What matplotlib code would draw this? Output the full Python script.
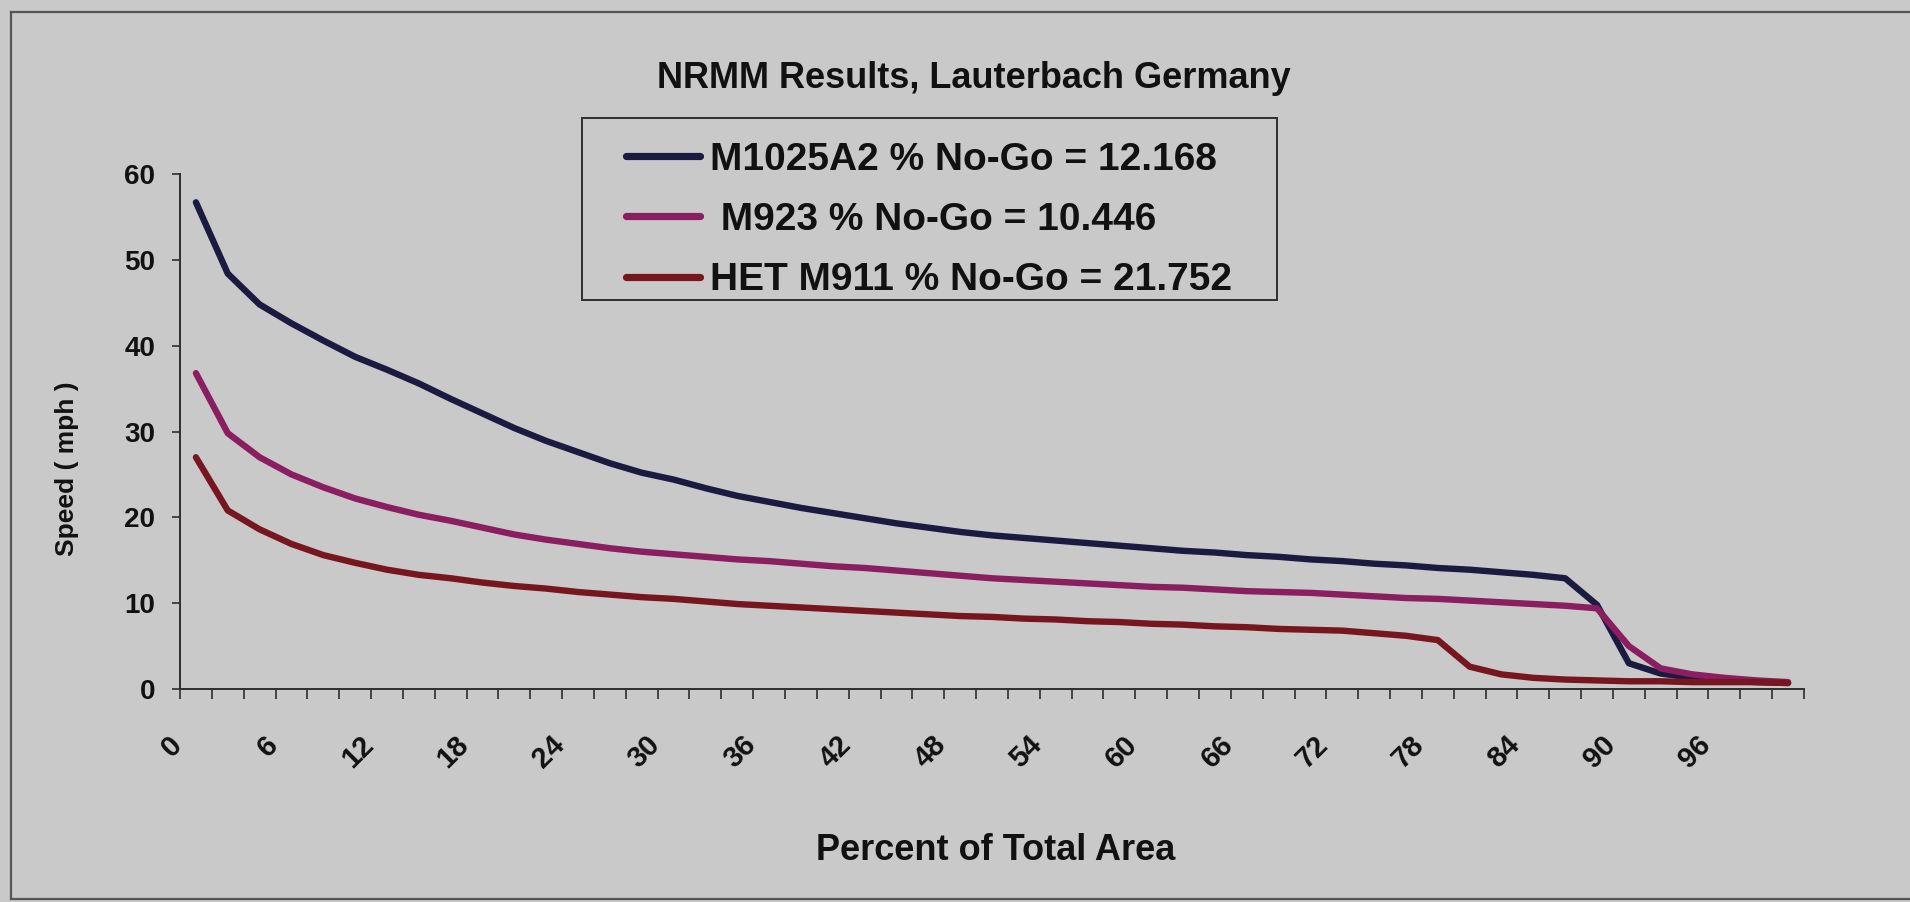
import matplotlib
matplotlib.use('Agg')
import matplotlib.pyplot as plt
import matplotlib.transforms as mtransforms
from matplotlib.lines import Line2D
from matplotlib.patches import Rectangle

# percent of total area (category axis)
pct = [0, 2, 4, 6, 8, 10, 12, 14, 16, 18, 20, 22, 24, 26, 28, 30, 32, 34, 36, 38,
       40, 42, 44, 46, 48, 50, 52, 54, 56, 58, 60, 62, 64, 66, 68, 70, 72, 74, 76, 78,
       80, 82, 84, 86, 88, 90, 92, 94, 96, 98, 100]

# speed (mph)
m1025a2 = [56.7, 48.4, 44.8, 42.6, 40.6, 38.7, 37.2, 35.6, 33.8, 32.1,
           30.4, 28.9, 27.6, 26.3, 25.2, 24.4, 23.4, 22.5, 21.8, 21.1,
           20.5, 19.9, 19.3, 18.8, 18.3, 17.9, 17.6, 17.3, 17.0, 16.7,
           16.4, 16.1, 15.9, 15.6, 15.4, 15.1, 14.9, 14.6, 14.4, 14.1,
           13.9, 13.6, 13.3, 12.9, 9.8, 3.0, 1.8, 1.3, 1.0, 0.8, 0.7]
m923 = [36.8, 29.8, 27.0, 25.0, 23.5, 22.2, 21.2, 20.3, 19.6, 18.8,
        18.0, 17.4, 16.9, 16.4, 16.0, 15.7, 15.4, 15.1, 14.9, 14.6,
        14.3, 14.1, 13.8, 13.5, 13.2, 12.9, 12.7, 12.5, 12.3, 12.1,
        11.9, 11.8, 11.6, 11.4, 11.3, 11.2, 11.0, 10.8, 10.6, 10.5,
        10.3, 10.1, 9.9, 9.7, 9.4, 5.0, 2.4, 1.7, 1.3, 1.0, 0.8]
het_m911 = [27.0, 20.8, 18.6, 16.9, 15.6, 14.7, 13.9, 13.3, 12.9, 12.4,
            12.0, 11.7, 11.3, 11.0, 10.7, 10.5, 10.2, 9.9, 9.7, 9.5,
            9.3, 9.1, 8.9, 8.7, 8.5, 8.4, 8.2, 8.1, 7.9, 7.8,
            7.6, 7.5, 7.3, 7.2, 7.0, 6.9, 6.8, 6.5, 6.2, 5.7,
            2.6, 1.7, 1.3, 1.1, 1.0, 0.9, 0.9, 0.8, 0.8, 0.8, 0.7]

names = ['M1025A2 % No-Go = 12.168', ' M923 % No-Go = 10.446', 'HET M911 % No-Go = 21.752']
colors = ['#1b1b42', '#8a1e60', '#78161f']

plt.rcParams['font.family'] = ['Liberation Sans', 'DejaVu Sans']
plt.rcParams['font.weight'] = 'bold'

W, H = 1910, 902
bg = '#c9c9c9'
ink = '#2e2e2e'
txt = '#111111'

fig = plt.figure(figsize=(W / 100, H / 100), dpi=100, facecolor=bg)
ax = fig.add_axes([180 / W, 1 - 689 / H, (1804 - 180) / W, (689 - 174) / H])
ax.set_facecolor(bg)

x = list(range(len(pct)))
for ys, c, n in zip([m1025a2, m923, het_m911], colors, names):
    ax.plot(x, ys, color=c, lw=4.6, label=n, solid_capstyle='round', solid_joinstyle='round')

ax.set_xlim(-0.5, len(pct) - 0.5)
ax.set_ylim(0, 60)
ax.set_yticks(range(0, 61, 10))

for s in ['top', 'right']:
    ax.spines[s].set_visible(False)
for s in ['left', 'bottom']:
    ax.spines[s].set_color(ink)
    ax.spines[s].set_linewidth(1.4)

ax.tick_params(axis='y', direction='out', length=6, width=1.2, color=ink,
               labelsize=20, pad=12, labelcolor=txt)

# label every third category, tick marks between all categories
ax.set_xticks(x[::3])
ax.set_xticklabels([str(p) for p in pct[::3]], rotation=45, ha='right', va='center',
                   rotation_mode='anchor')
ax.set_xticks([i - 0.5 for i in range(len(pct) + 1)], minor=True)
ax.tick_params(axis='x', which='major', length=0, pad=37, labelsize=21, labelcolor=txt)
ax.tick_params(axis='x', which='minor', direction='out', length=7, width=1.2, color=ink)
shift = mtransforms.ScaledTranslation(-0.18, 0, fig.dpi_scale_trans)
for lab in ax.get_xticklabels():
    lab.set_transform(lab.get_transform() + shift)

fig.text(974 / W, 1 - 78 / H, 'NRMM Results, Lauterbach Germany', ha='center', va='center',
         fontsize=26, fontweight='bold', color=txt)
fig.text(996 / W, 1 - 850 / H, 'Percent of Total Area', ha='center', va='center',
         fontsize=26, fontweight='bold', color=txt)
fig.text(67 / W, 1 - 469 / H, 'Speed ( mph )', ha='center', va='center', rotation=90,
         fontsize=19, fontweight='bold', color=txt)

# legend box (Excel style, wider padding at the sides)
fig.add_artist(Rectangle((582 / W, 1 - 300 / H), (1277 - 582) / W, (300 - 118) / H,
                         transform=fig.transFigure, facecolor='none', edgecolor=ink, lw=1.4))
leg = ax.legend(loc='upper left', bbox_to_anchor=(626 / W, 1 - 142 / H),
                bbox_transform=fig.transFigure, borderaxespad=0, borderpad=0, fontsize=28,
                handlelength=1.9, handletextpad=0.26, labelspacing=0.62, frameon=False)
for t in leg.get_texts():
    t.set_color(txt)
for h in leg.legend_handles:
    h.set_linewidth(5.2)

# outer frame of the scanned chart
frame = dict(transform=fig.transFigure, color='#555555', lw=1.6)
fig.add_artist(Line2D([11 / W, 1], [1 - 12 / H, 1 - 12 / H], **frame))
fig.add_artist(Line2D([11 / W, 11 / W], [1 - 12 / H, 1 - 899 / H], **frame))
fig.add_artist(Line2D([11 / W, 1], [1 - 899 / H, 1 - 899 / H], **frame))

fig.savefig('out.png', dpi=100, facecolor=bg)
